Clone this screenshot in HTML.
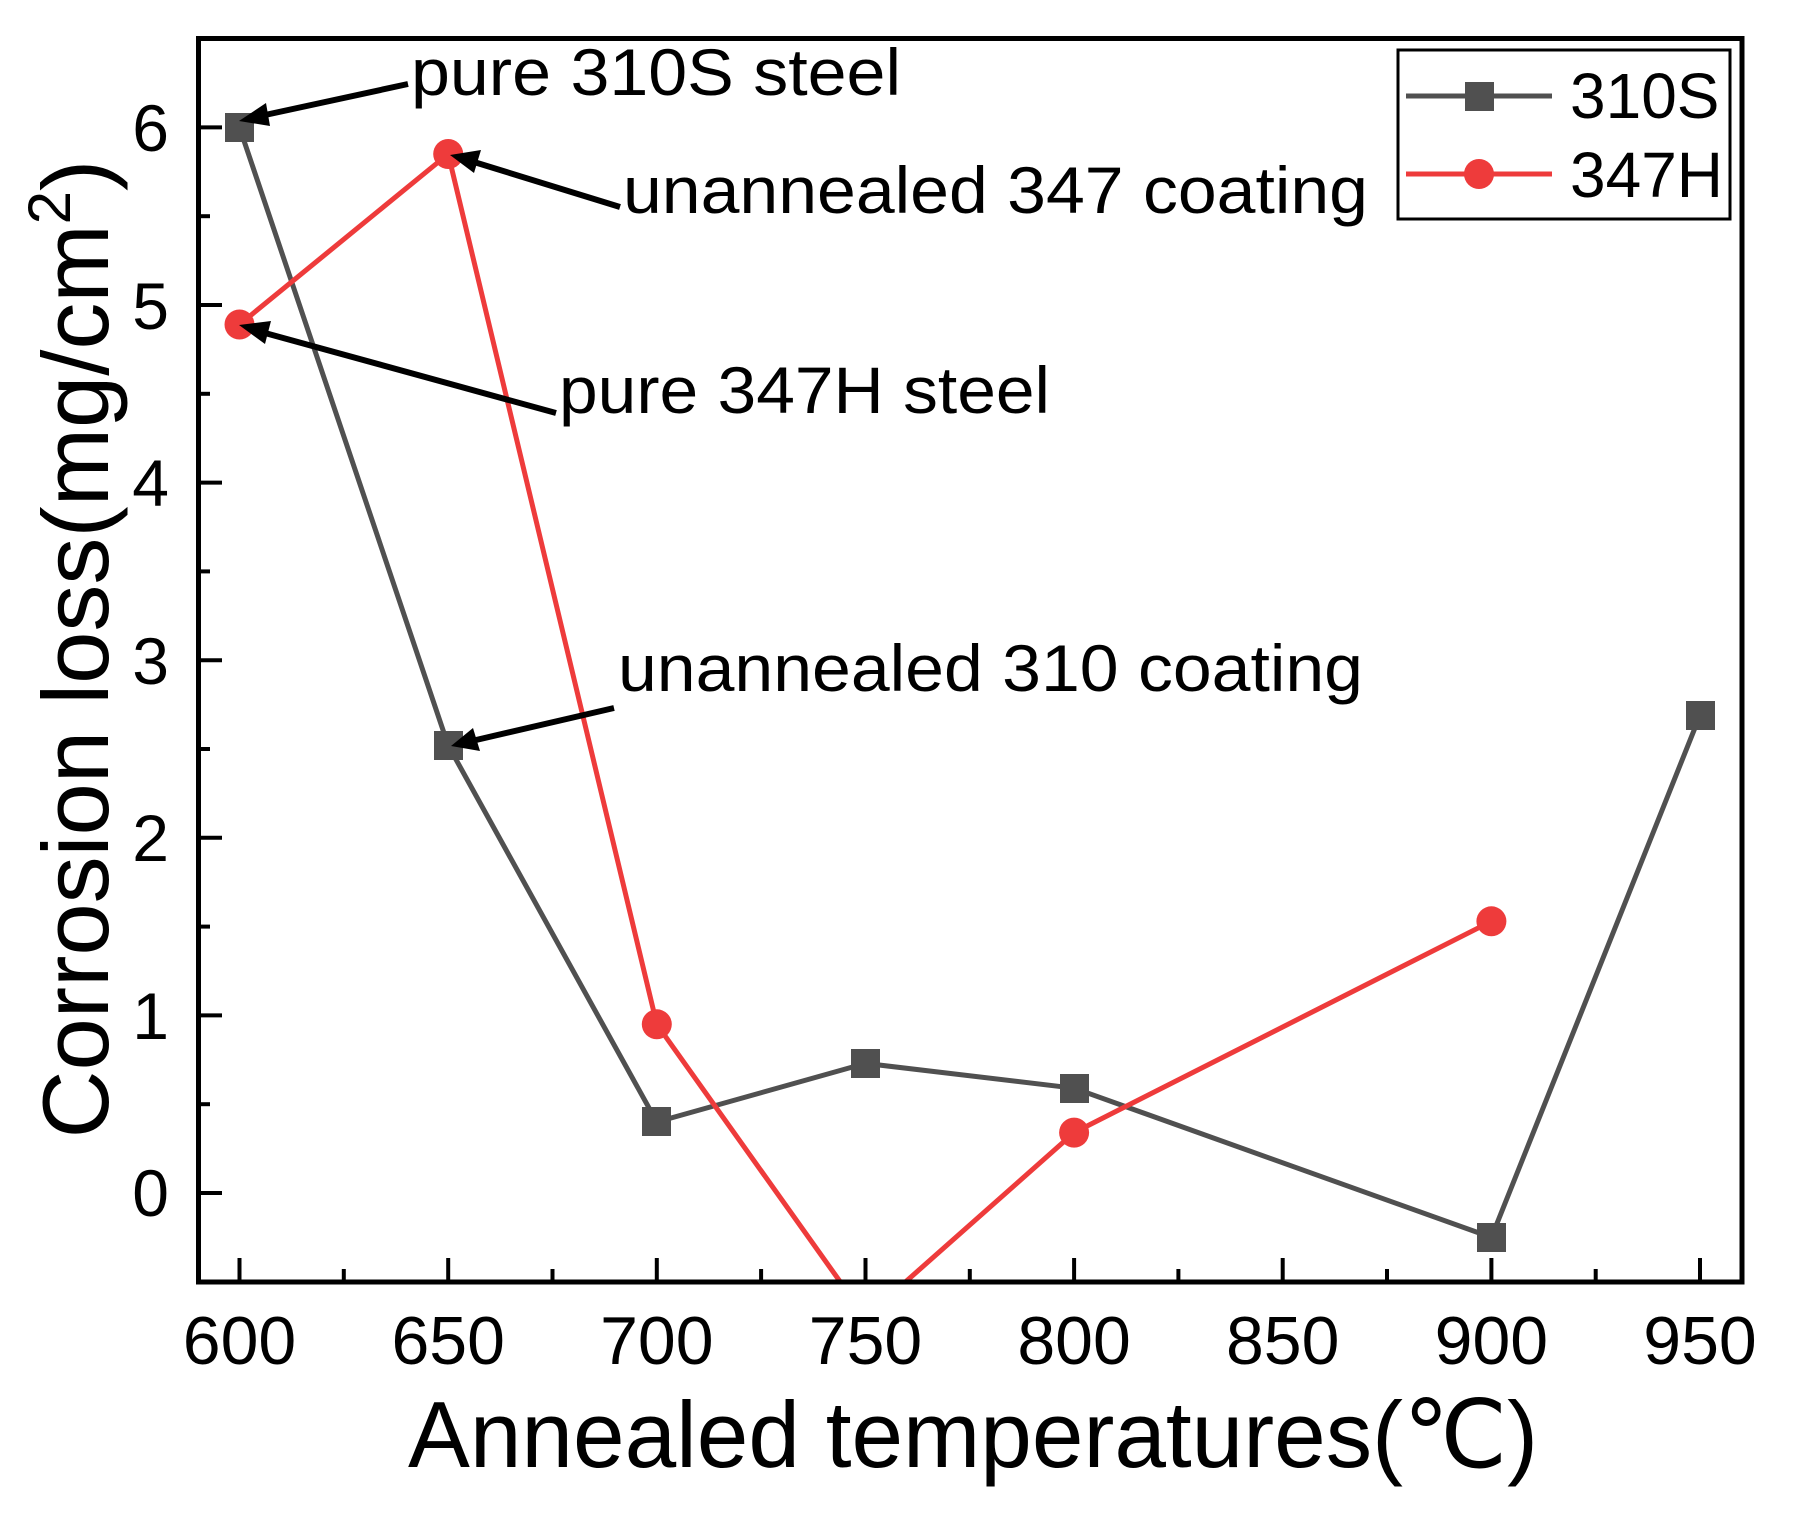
<!DOCTYPE html>
<html><head><meta charset="utf-8"><style>html,body{margin:0;padding:0;background:#fff}svg{display:block}</style></head>
<body>
<svg width="1799" height="1516" viewBox="0 0 1799 1516" xmlns="http://www.w3.org/2000/svg" font-family="Liberation Sans, Arial, sans-serif">
<defs>
<clipPath id="pc"><rect x="198" y="38" width="1544" height="1244"/></clipPath>
</defs>
<rect width="1799" height="1516" fill="#fff"/>
<g clip-path="url(#pc)" fill="none" stroke-linejoin="round">
<polyline points="239.5,127.4 448.2,745.4 656.8,1122 865.5,1063.4 1074.1,1088.2 1491.4,1237.4 1700,715.3" stroke="#505050" stroke-width="5"/>
<polyline points="239.5,324.5 448.2,154 656.8,1024.3 865.5,1317.3 1074.1,1132.6 1491.4,921.3" stroke="#ee3b3b" stroke-width="5"/>
</g>
<g fill="#505050">
<rect x="225" y="113" width="29" height="29"/>
<rect x="434" y="731" width="29" height="29"/>
<rect x="642" y="1107" width="29" height="29"/>
<rect x="851" y="1049" width="29" height="29"/>
<rect x="1060" y="1074" width="29" height="29"/>
<rect x="1477" y="1223" width="29" height="29"/>
<rect x="1686" y="701" width="29" height="29"/>
</g>
<g fill="#ee3b3b">
<circle cx="239.5" cy="324.5" r="15"/>
<circle cx="448.2" cy="154" r="15"/>
<circle cx="656.8" cy="1024.3" r="15"/>
<circle cx="1074.1" cy="1132.6" r="15"/>
<circle cx="1491.4" cy="921.3" r="15"/>
</g>
<rect x="198.5" y="38.5" width="1543.5" height="1243.5" fill="none" stroke="#000" stroke-width="5"/>
<g stroke="#000" stroke-width="4">
<line x1="239.5" y1="1282" x2="239.5" y2="1258"/><line x1="448.2" y1="1282" x2="448.2" y2="1258"/>
<line x1="656.8" y1="1282" x2="656.8" y2="1258"/><line x1="865.5" y1="1282" x2="865.5" y2="1258"/>
<line x1="1074.1" y1="1282" x2="1074.1" y2="1258"/><line x1="1282.7" y1="1282" x2="1282.7" y2="1258"/>
<line x1="1491.4" y1="1282" x2="1491.4" y2="1258"/><line x1="1700" y1="1282" x2="1700" y2="1258"/>
<line x1="343.8" y1="1282" x2="343.8" y2="1269"/><line x1="552.5" y1="1282" x2="552.5" y2="1269"/>
<line x1="761.1" y1="1282" x2="761.1" y2="1269"/><line x1="969.8" y1="1282" x2="969.8" y2="1269"/>
<line x1="1178.4" y1="1282" x2="1178.4" y2="1269"/><line x1="1387" y1="1282" x2="1387" y2="1269"/>
<line x1="1595.7" y1="1282" x2="1595.7" y2="1269"/>
<line x1="198" y1="1193" x2="222" y2="1193"/><line x1="198" y1="1015.4" x2="222" y2="1015.4"/>
<line x1="198" y1="837.8" x2="222" y2="837.8"/><line x1="198" y1="660.2" x2="222" y2="660.2"/>
<line x1="198" y1="482.6" x2="222" y2="482.6"/><line x1="198" y1="305" x2="222" y2="305"/>
<line x1="198" y1="127.4" x2="222" y2="127.4"/>
<line x1="198" y1="1104.2" x2="210" y2="1104.2"/><line x1="198" y1="926.6" x2="210" y2="926.6"/>
<line x1="198" y1="749" x2="210" y2="749"/><line x1="198" y1="571.4" x2="210" y2="571.4"/>
<line x1="198" y1="393.8" x2="210" y2="393.8"/><line x1="198" y1="216.2" x2="210" y2="216.2"/>
</g>
<g font-size="66" fill="#000" text-anchor="end">
<text x="169" y="1216">0</text><text x="169" y="1039">1</text><text x="169" y="861">2</text>
<text x="169" y="684">3</text><text x="169" y="506">4</text><text x="169" y="329">5</text><text x="169" y="151">6</text>
</g>
<g font-size="68" fill="#000" text-anchor="middle">
<text x="239.5" y="1364">600</text><text x="448.2" y="1364">650</text><text x="656.8" y="1364">700</text>
<text x="865.5" y="1364">750</text><text x="1074.1" y="1364">800</text><text x="1282.7" y="1364">850</text>
<text x="1491.4" y="1364">900</text><text x="1700" y="1364">950</text>
</g>
<text x="408" y="1467" font-size="94" textLength="1130" lengthAdjust="spacingAndGlyphs">Annealed temperatures(℃)</text>
<text transform="translate(108,649) rotate(-90)" font-size="94" text-anchor="middle">Corrosion loss(mg/cm<tspan font-size="60" dy="-38">2</tspan><tspan dy="38">)</tspan></text>
<g font-size="66" fill="#000">
<text x="411" y="95" textLength="490" lengthAdjust="spacingAndGlyphs">pure 310S steel</text>
<text x="623" y="213" textLength="745" lengthAdjust="spacingAndGlyphs">unannealed 347 coating</text>
<text x="559" y="413" textLength="491" lengthAdjust="spacingAndGlyphs">pure 347H steel</text>
<text x="618" y="691" textLength="745" lengthAdjust="spacingAndGlyphs">unannealed 310 coating</text>
</g>
<g stroke="#000" stroke-width="6">
<line x1="408" y1="84" x2="265" y2="115"/>
<line x1="620" y1="207" x2="474" y2="162"/>
<line x1="556" y1="413" x2="265" y2="333"/>
<line x1="614" y1="708" x2="476" y2="740"/>
</g>
<g fill="#000">
<polygon points="239,121 266,103 270,126"/>
<polygon points="450,155 481,150 474,173"/>
<polygon points="239,325 271,321 265,344"/>
<polygon points="451,746 473,728 480,751"/>
</g>
<rect x="1398" y="50" width="332" height="169" fill="#fff" stroke="#000" stroke-width="3"/>
<line x1="1406" y1="96" x2="1552" y2="96" stroke="#505050" stroke-width="5"/>
<rect x="1465" y="82" width="29" height="29" fill="#505050"/>
<line x1="1406" y1="174" x2="1552" y2="174" stroke="#ee3b3b" stroke-width="5"/>
<circle cx="1479" cy="174" r="15" fill="#ee3b3b"/>
<text x="1570" y="118" font-size="64">310S</text>
<text x="1570" y="197" font-size="64">347H</text>
</svg>
</body></html>
